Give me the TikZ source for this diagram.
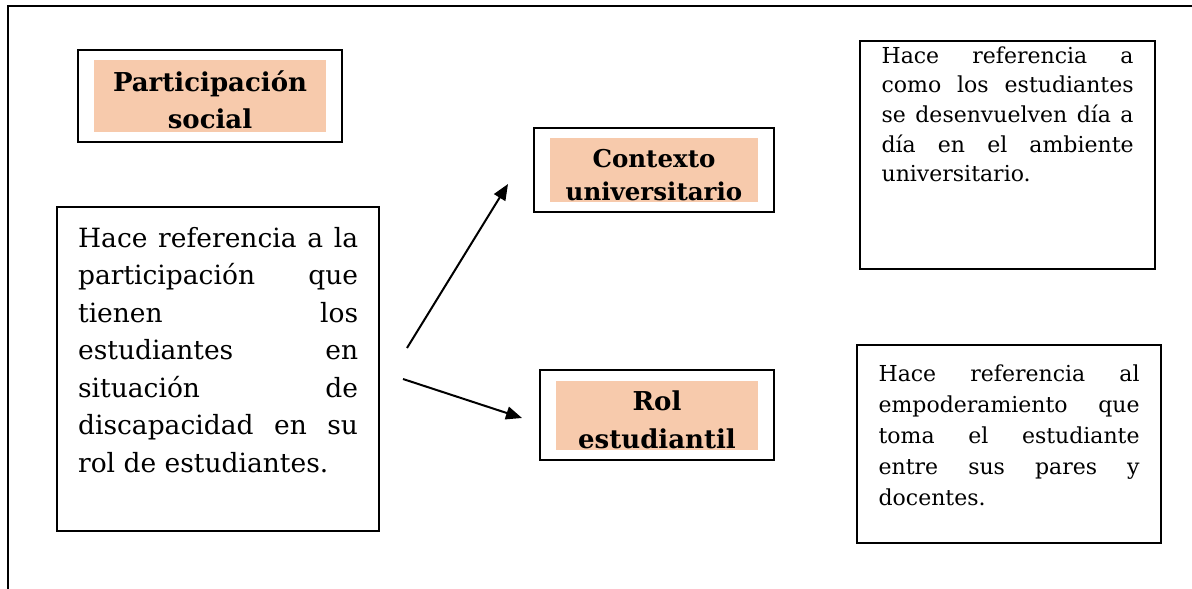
\documentclass[tikz,border=0pt]{standalone}
\usepackage{fontspec}
\setmainfont{DejaVu Serif}
\usetikzlibrary{arrows.meta}
\definecolor{peach}{HTML}{F7CAAC}
\tolerance=10000
\hbadness=10000
\tikzset{
  outerbox/.style={draw, line width=2.2pt, inner sep=0pt},
  titlefill/.style={fill=peach, inner sep=0pt, anchor=north, align=center},
  textbox/.style={draw, line width=2.2pt, anchor=north west, inner xsep=21pt, inner ysep=0pt, align=justify},
  arr/.style={line width=2pt, -{Triangle[length=16pt,width=13pt]}}
}
\begin{document}
\begin{tikzpicture}[x=1pt,y=-1pt]
                        \useasboundingbox (0,0) rectangle (1192,589);

                        % Drawing outer frame
                        \draw [line width=2.2pt] (8.000000,589.000000) -- (8.000000,6.000000) -- (1192.000000,6.000000);%

                        % Drawing title box participacion
                        \node [outerbox, minimum width=264pt, minimum height=92pt] (part) at (210.000000,96.000000) {};%
                        \node [titlefill, text width=232pt, text height=31pt, text depth=41pt,
                               font=\bfseries\fontsize{26}{37}\selectfont] (partT) at (210.000000,60.000000) {Participación\\social};%

                        % Drawing title box contexto
                        \node [outerbox, minimum width=240pt, minimum height=84pt] (ctx) at (654.000000,170.000000) {};%
                        \node [titlefill, text width=208pt, text height=29pt, text depth=35pt,
                               font=\bfseries\fontsize{24.5}{33}\selectfont] (ctxT) at (654.000000,138.000000) {Contexto\\universitario};%

                        % Drawing title box rol
                        \node [outerbox, minimum width=234pt, minimum height=90pt] (rol) at (657.000000,415.000000) {};%
                        \node [titlefill, text width=202pt, text height=29pt, text depth=40pt,
                               font=\bfseries\fontsize{26}{38}\selectfont] (rolT) at (657.000000,381.000000) {Rol\\estudiantil};%

                        % Drawing text box left
                        \node [textbox, text width=280pt, text height=40pt, text depth=284pt,
                               font=\fontsize{26.5}{37.5}\selectfont] (partD) at (56.000000,206.000000)
                          {Hace referencia a la\linebreak participación que\linebreak tienen los\linebreak estudiantes en\linebreak situación de\linebreak discapacidad en su\linebreak rol de estudiantes.};%

                        % Drawing text box top right
                        \node [textbox, inner xsep=21.5pt, text width=252pt, text height=22pt, text depth=206pt,
                               font=\fontsize{22}{29.7}\selectfont] (ctxD) at (859.000000,40.000000)
                          {Hace referencia a\linebreak como los estudiantes\linebreak se desenvuelven día a\linebreak día en el ambiente\linebreak universitario.};%

                        % Drawing text box bottom right
                        \node [textbox, inner xsep=21.5pt, text width=261pt, text height=36pt, text depth=162pt,
                               font=\fontsize{22}{31}\selectfont] (rolD) at (856.000000,344.000000)
                          {Hace referencia al\linebreak empoderamiento que\linebreak toma el estudiante\linebreak entre sus pares y\linebreak docentes.};%

                        % Drawing arrow to contexto
                        \coordinate (upS) at (407.000000,348.000000);
                        \coordinate (upE) at (508.000000,184.000000);
                        \draw [arr] (upS) -- (upE);%

                        % Drawing arrow to rol
                        \coordinate (dnS) at (403.000000,379.000000);
                        \coordinate (dnE) at (522.000000,418.000000);
                        \draw [arr] (dnS) -- (dnE);%
\end{tikzpicture}
\end{document}
